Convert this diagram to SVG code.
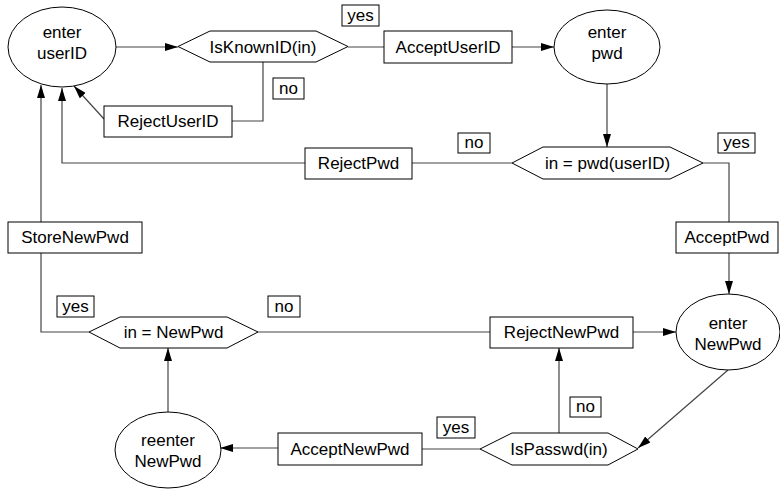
<svg xmlns="http://www.w3.org/2000/svg" width="780" height="489" viewBox="0 0 780 489">
<defs>
<marker id="ah" markerUnits="userSpaceOnUse" markerWidth="13" markerHeight="8" refX="13" refY="4" orient="auto">
<path d="M0,0 L13,4 L0,8 z" fill="#000"/>
</marker>
<style>
.n{fill:#fff;stroke:#000;stroke-width:1}
.l{fill:#fff;stroke:#000;stroke-width:1}
.c{fill:none;stroke:#444;stroke-width:1.2}
.a{marker-end:url(#ah)}
text{font-family:"Liberation Sans",Arial,sans-serif;font-size:17px;fill:#000;text-anchor:middle}
</style>
</defs>
<rect width="780" height="489" fill="#fff"/>
<g id="connectors">
<path class="c a" d="M116,47 H178"/>
<path class="c" d="M348,47 H384"/>
<path class="c a" d="M512,47 H554"/>
<path class="c" d="M263,62 V121 H232"/>
<path class="c a" d="M104,119 L74,86"/>
<path class="c a" d="M607,84 V147"/>
<path class="c" d="M512,163 H412"/>
<path class="c a" d="M305,163 H62 V88"/>
<path class="c" d="M703,163 H729 V222"/>
<path class="c a" d="M729,253 V294"/>
<path class="c a" d="M41,222 V85"/>
<path class="c" d="M41,253 V332 H89"/>
<path class="c" d="M258,332 H490"/>
<path class="c a" d="M633,332 H676"/>
<path class="c a" d="M728,370 L638,448"/>
<path class="c a" d="M559,433 V348"/>
<path class="c" d="M480,449 H422"/>
<path class="c a" d="M278,448 H220"/>
<path class="c a" d="M168,412 V348"/>
</g>
<g id="enter_userID"><ellipse class="n" cx="62" cy="47" rx="54" ry="40"/><text x="62" y="38">enter</text><text x="62" y="59">userID</text></g>
<g id="IsKnownID"><polygon class="n" points="178,46.5 210,31 316,31 348,46.5 316,62 210,62"/><text x="263" y="53">IsKnownID(in)</text></g>
<g id="lbl_yes1"><rect class="l" x="342" y="5" width="37" height="21"/><text x="360.5" y="21">yes</text></g>
<g id="AcceptUserID"><rect class="n" x="384" y="31" width="128" height="32"/><text x="448" y="53">AcceptUserID</text></g>
<g id="enter_pwd"><ellipse class="n" cx="607" cy="47" rx="53" ry="37"/><text x="607" y="38">enter</text><text x="607" y="59">pwd</text></g>
<g id="lbl_no1"><rect class="l" x="273" y="78" width="31" height="21"/><text x="288.5" y="94">no</text></g>
<g id="RejectUserID"><rect class="n" x="104" y="106" width="128" height="31"/><text x="168" y="127">RejectUserID</text></g>
<g id="pwd_check"><polygon class="n" points="512,163 543,147 670,147 703,163 670,179 543,179"/><text x="607.5" y="169">in = pwd(userID)</text></g>
<g id="lbl_no2"><rect class="l" x="458" y="133" width="32" height="20"/><text x="474" y="148">no</text></g>
<g id="lbl_yes2"><rect class="l" x="718" y="133" width="37" height="20"/><text x="736.5" y="148">yes</text></g>
<g id="RejectPwd"><rect class="n" x="305" y="148" width="107" height="31"/><text x="358.5" y="169">RejectPwd</text></g>
<g id="StoreNewPwd"><rect class="n" x="8" y="222" width="134" height="31"/><text x="75" y="243">StoreNewPwd</text></g>
<g id="AcceptPwd"><rect class="n" x="676" y="222" width="102" height="31"/><text x="727" y="243">AcceptPwd</text></g>
<g id="lbl_yes3"><rect class="l" x="57" y="296" width="37" height="21"/><text x="75.5" y="312">yes</text></g>
<g id="lbl_no3"><rect class="l" x="268" y="296" width="32" height="21"/><text x="284" y="312">no</text></g>
<g id="newpwd_check"><polygon class="n" points="89,332 120,317 227,317 258,332 227,348 120,348"/><text x="173.5" y="338">in = NewPwd</text></g>
<g id="RejectNewPwd"><rect class="n" x="490" y="317" width="143" height="31"/><text x="561.5" y="338">RejectNewPwd</text></g>
<g id="enter_NewPwd"><ellipse class="n" cx="728" cy="332" rx="52" ry="38"/><text x="728" y="329">enter</text><text x="728" y="350">NewPwd</text></g>
<g id="lbl_no4"><rect class="l" x="570" y="397" width="31" height="20"/><text x="585.5" y="412">no</text></g>
<g id="lbl_yes4"><rect class="l" x="437" y="417" width="38" height="21"/><text x="456" y="433">yes</text></g>
<g id="IsPasswd"><polygon class="n" points="480,449 512,433 608,433 638,449 608,465 512,465"/><text x="559" y="455">IsPasswd(in)</text></g>
<g id="AcceptNewPwd"><rect class="n" x="278" y="433" width="144" height="32"/><text x="350" y="455">AcceptNewPwd</text></g>
<g id="reenter_NewPwd"><ellipse class="n" cx="168" cy="450" rx="53" ry="38"/><text x="168" y="446">reenter</text><text x="168" y="467">NewPwd</text></g>
</svg>
